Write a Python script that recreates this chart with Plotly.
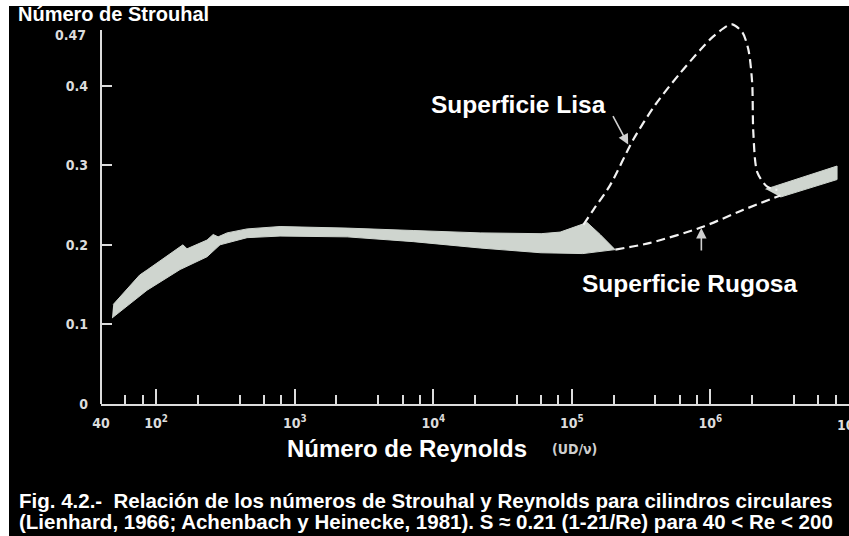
import math
import plotly.graph_objects as go

# Strouhal number band (grey envelope) for smooth circular cylinders
band_upper_re = [49, 76, 87, 149, 156, 167, 233, 258, 280, 325, 453, 784, 2390, 7160, 21800, 60000, 82400, 129000, 160000, 205000]
band_upper_st = [0.125, 0.162, 0.169, 0.197, 0.200, 0.195, 0.206, 0.213, 0.210, 0.215, 0.220, 0.223, 0.221, 0.218, 0.215, 0.214, 0.216, 0.228, 0.213, 0.194]
band_lower_re = [48, 86, 149, 233, 289, 453, 784, 2390, 7160, 21800, 60000, 120000, 205000]
band_lower_st = [0.108, 0.143, 0.169, 0.185, 0.200, 0.209, 0.211, 0.210, 0.204, 0.196, 0.190, 0.189, 0.194]

# Supercritical band at high Reynolds numbers
hi_upper_re = [2.5e6, 2.84e6, 8.2e6]
hi_upper_st = [0.270, 0.273, 0.299]
hi_lower_re = [3.2e6, 8.2e6]
hi_lower_st = [0.260, 0.282]

# Dashed curves: smooth surface (Lisa) and rough surface (Rugosa)
lisa_re = [1.21e5, 1.43e5, 1.89e5, 2.77e5, 4.0e5, 6.06e5, 8.46e5, 1.05e6, 1.32e6, 1.44e6, 1.70e6, 1.88e6, 2.0e6, 2.04e6, 2.18e6, 2.57e6, 3.04e6]
lisa_st = [0.225, 0.244, 0.275, 0.332, 0.376, 0.416, 0.445, 0.462, 0.475, 0.477, 0.467, 0.445, 0.404, 0.341, 0.291, 0.273, 0.269]
rugosa_re = [2.06e5, 3.68e5, 8.6e5, 1.73e6, 3.2e6]
rugosa_st = [0.194, 0.2025, 0.222, 0.244, 0.262]

# Axis ticks
x_major = [40, 1e2, 1e3, 1e4, 1e5, 1e6, 1e7]
x_major_text = ["40", "10<sup>2</sup>", "10<sup>3</sup>", "10<sup>4</sup>", "10<sup>5</sup>", "10<sup>6</sup>", ""]
x_edge_label = "10<sup>7</sup>"
x_minor = [m * 10 ** d for d in range(1, 7) for m in (2, 4, 6, 8)]
x_minor = [v for v in x_minor if v >= 60]
y_labels = [0, 0.1, 0.2, 0.3, 0.4]
y_label_text = ["0", "0.1", "0.2", "0.3", "0.4"]
y_top_label = "0.47"
y_minor = [0.1, 0.2, 0.3, 0.4]

W, H = 849, 536
L, R, T, B = 101, 0, 18, 132
PW, PH = W - L - R, H - T - B


def px_x(p):
    return (p - L) / PW


def px_y(p):
    return (H - B - p) / PH


band_color = "#cfd5cf"
ink = "#dcdcdc"
tick_font = dict(family="Liberation Sans Narrow, DejaVu Sans Condensed, Liberation Sans", size=14, color=ink, weight="bold")

fig = go.Figure()

fig.add_trace(go.Scatter(
    x=band_upper_re + band_lower_re[::-1],
    y=band_upper_st + band_lower_st[::-1],
    fill="toself", fillcolor=band_color, mode="lines",
    line=dict(color=band_color, width=1), hoverinfo="skip", showlegend=False))

fig.add_trace(go.Scatter(
    x=hi_upper_re + hi_lower_re[::-1],
    y=hi_upper_st + hi_lower_st[::-1],
    fill="toself", fillcolor=band_color, mode="lines",
    line=dict(color=band_color, width=1), hoverinfo="skip", showlegend=False))

fig.add_trace(go.Scatter(
    x=lisa_re, y=lisa_st, mode="lines",
    line=dict(color="#f2f2f2", width=2.2, dash="9px,5px", shape="spline", smoothing=0.8),
    showlegend=False))

fig.add_trace(go.Scatter(
    x=rugosa_re, y=rugosa_st, mode="lines",
    line=dict(color="#f2f2f2", width=2.2, dash="9px,5px", shape="spline", smoothing=0.8),
    showlegend=False))

fig.update_xaxes(
    type="log", range=[math.log10(40), 7.0],
    tickmode="array", tickvals=x_major, ticktext=x_major_text,
    ticks="inside", ticklen=15, tickwidth=2, tickcolor=ink,
    tickfont=tick_font, ticklabelstandoff=5, automargin=False,
    showline=True, linecolor=ink, linewidth=2,
    showgrid=False, zeroline=False,
    minor=dict(tickmode="array", tickvals=x_minor, ticks="inside", ticklen=9,
               tickwidth=2, tickcolor=ink, showgrid=False))

fig.update_yaxes(
    range=[0, 0.485],
    tickmode="array", tickvals=y_labels, ticktext=y_label_text,
    ticks="", tickfont=tick_font, ticklabelstandoff=12, automargin=False,
    showline=False, showgrid=False, zeroline=False,
    minor=dict(tickmode="array", tickvals=y_minor, ticks="inside", ticklen=11,
               tickwidth=2, tickcolor=ink, showgrid=False))

shapes = [
    # vertical axis line up to 0.47
    dict(type="line", xref="paper", yref="y", x0=0, x1=0, y0=0, y1=0.47,
         line=dict(color=ink, width=2)),
    # white margins of the scanned page
    dict(type="rect", xref="paper", yref="paper", x0=px_x(0), x1=px_x(W + 2),
         y0=px_y(6), y1=px_y(-2), fillcolor="white", line=dict(width=0)),
    dict(type="rect", xref="paper", yref="paper", x0=px_x(-2), x1=px_x(9),
         y0=px_y(H + 2), y1=px_y(-2), fillcolor="white", line=dict(width=0)),
]

label_font = dict(family="Liberation Sans, Arial", color="white", weight="bold")

annotations = [
    dict(text="Número de Strouhal", x=px_x(16), y=px_y(14), xref="paper", yref="paper",
         xanchor="left", yanchor="middle", showarrow=False, font=dict(label_font, size=20)),
    # label at the top end of the vertical axis
    dict(text=y_top_label, x=px_x(88), y=px_y(35), xref="paper", yref="paper",
         xanchor="right", yanchor="middle", showarrow=False, font=tick_font),
    dict(text="Número de Reynolds", x=px_x(407), y=px_y(448), xref="paper", yref="paper",
         xanchor="center", yanchor="middle", showarrow=False, font=dict(label_font, size=24)),
    dict(text="(UD/ν)", x=px_x(550), y=px_y(449), xref="paper", yref="paper",
         xanchor="left", yanchor="middle", showarrow=False,
         font=dict(family="Liberation Sans Narrow, DejaVu Sans Condensed", size=14, color="#cfcfcf", weight="bold")),
    # tick label at the right edge of the axis, partly cut off by the page
    dict(text=x_edge_label, x=1.0, y=px_y(424), xref="paper", yref="paper",
         xanchor="center", yanchor="middle", showarrow=False, font=tick_font),
    dict(text="Superficie Lisa", x=px_x(429), y=px_y(104), xref="paper", yref="paper",
         xanchor="left", yanchor="middle", showarrow=False, font=dict(label_font, size=24.5)),
    dict(text="Superficie Rugosa", x=px_x(580), y=px_y(283), xref="paper", yref="paper",
         xanchor="left", yanchor="middle", showarrow=False, font=dict(label_font, size=24.5)),
    dict(text="Fig. 4.2.-  Relación de los números de Strouhal y Reynolds para cilindros circulares",
         x=px_x(17), y=px_y(500), xref="paper", yref="paper",
         xanchor="left", yanchor="middle", showarrow=False, font=dict(label_font, size=20.5)),
    dict(text="(Lienhard, 1966; Achenbach y Heinecke, 1981). S ≈ 0.21 (1-21/Re) para 40 < Re < 200",
         x=px_x(17), y=px_y(521), xref="paper", yref="paper",
         xanchor="left", yanchor="middle", showarrow=False, font=dict(label_font, size=20.5)),
    # arrows pointing at the curves
    dict(x=math.log10(2.55e5), y=0.326, xref="x", yref="y", text="", showarrow=True,
         ax=-16, ay=-30, arrowhead=2, arrowsize=1.3, arrowwidth=1.6, arrowcolor="#cfcfcf"),
    dict(x=math.log10(8.6e5), y=0.221, xref="x", yref="y", text="", showarrow=True,
         ax=0, ay=24, arrowhead=2, arrowsize=1.3, arrowwidth=1.6, arrowcolor="#cfcfcf"),
]

fig.update_layout(
    width=W, height=H,
    margin=dict(l=L, r=R, t=T, b=B, autoexpand=False),
    paper_bgcolor="black", plot_bgcolor="black",
    shapes=shapes, annotations=annotations,
    showlegend=False,
)

fig.write_html("out.html")
